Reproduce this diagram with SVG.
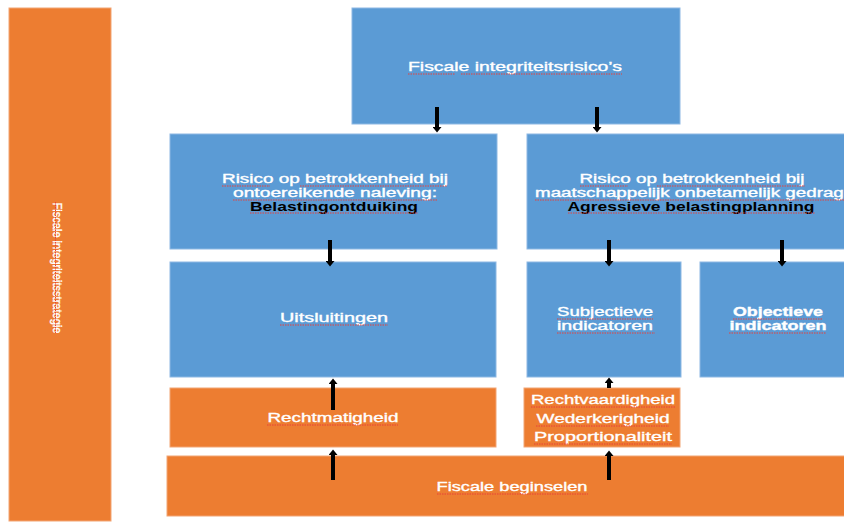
<svg xmlns="http://www.w3.org/2000/svg" width="844" height="522" viewBox="0 0 844 522">
  <defs>
    <marker id="head" viewBox="0 0 6 10" refX="0" refY="5" markerWidth="6" markerHeight="9" markerUnits="userSpaceOnUse" orient="auto">
      <path d="M0,0 L6,5 L0,10 z" fill="#000"/>
    </marker>
    <style>
      .blue { fill: #5B9BD5; stroke: #8DB8E3; stroke-width: 1; }
      .orange { fill: #ED7D31; stroke: #F2A574; stroke-width: 1; }
      .t { font-family: "Liberation Sans", Arial, sans-serif; font-size: 13px; fill: #ffffff; stroke: #ffffff; stroke-width: 0.35; text-anchor: middle; }
      .s { font-size: 12px; }
      .b { font-weight: bold; }
      .k { fill: #000000; stroke: none; }
      .sq { stroke: #E8403A; stroke-width: 1; stroke-dasharray: 1.5 1; fill: none; }
      .arr { stroke: #000; stroke-width: 4; marker-end: url(#head); }
    </style>
  </defs>
  <rect width="844" height="522" fill="#ffffff"/>

  <g id="strategie">
    <rect class="orange" x="9" y="8" width="102" height="513"/>
    <text class="t" transform="translate(52.5,268) rotate(90)" style="font-size:12.5px" textLength="131" lengthAdjust="spacingAndGlyphs">Fiscale integriteitsstrategie</text>
    <line class="sq" x1="55.5" y1="202" x2="55.5" y2="333"/>
  </g>

  <g id="risicos">
    <rect class="blue" x="352" y="8" width="328" height="116"/>
    <text class="t" x="515" y="71" textLength="214" lengthAdjust="spacingAndGlyphs">Fiscale integriteitsrisico’s</text>
    <line class="sq" x1="408" y1="74" x2="455" y2="74"/>
    <line class="sq" x1="461" y1="74" x2="622" y2="74"/>
  </g>

  <g id="ontduiking">
    <rect class="blue" x="170" y="134" width="327" height="115"/>
    <text class="t s" x="335" y="183" textLength="226" lengthAdjust="spacingAndGlyphs">Risico op betrokkenheid bij</text>
    <text class="t s" x="335" y="197" textLength="204" lengthAdjust="spacingAndGlyphs">ontoereikende naleving:</text>
    <text class="t s b k" x="334" y="211" textLength="168" lengthAdjust="spacingAndGlyphs">Belastingontduiking</text>
    <line class="sq" x1="222" y1="186" x2="270" y2="186"/>
    <line class="sq" x1="300" y1="186" x2="447" y2="186"/>
    <line class="sq" x1="233" y1="200" x2="437" y2="200"/>
    <line class="sq" x1="250" y1="213" x2="418" y2="213"/>
  </g>

  <g id="planning">
    <rect class="blue" x="527" y="134" width="330" height="115"/>
    <text class="t s" x="692" y="183" textLength="225" lengthAdjust="spacingAndGlyphs">Risico op betrokkenheid bij</text>
    <text class="t s" x="692" y="197" textLength="314" lengthAdjust="spacingAndGlyphs">maatschappelijk onbetamelijk gedrag:</text>
    <text class="t s b k" x="691" y="211" textLength="247" lengthAdjust="spacingAndGlyphs">Agressieve belastingplanning</text>
    <line class="sq" x1="580" y1="186" x2="628" y2="186"/>
    <line class="sq" x1="657" y1="186" x2="805" y2="186"/>
    <line class="sq" x1="535" y1="200" x2="844" y2="200"/>
    <line class="sq" x1="568" y1="213" x2="815" y2="213"/>
  </g>

  <g id="uitsluitingen">
    <rect class="blue" x="170" y="262" width="326" height="115"/>
    <text class="t" x="334" y="322" textLength="108" lengthAdjust="spacingAndGlyphs">Uitsluitingen</text>
    <line class="sq" x1="280" y1="325" x2="388" y2="325"/>
  </g>

  <g id="subjectief">
    <rect class="blue" x="527" y="262" width="154" height="115"/>
    <text class="t s" x="605" y="316" textLength="96" lengthAdjust="spacingAndGlyphs">Subjectieve</text>
    <text class="t s" x="605" y="330" textLength="96" lengthAdjust="spacingAndGlyphs">indicatoren</text>
    <line class="sq" x1="557" y1="319" x2="653" y2="319"/>
    <line class="sq" x1="557" y1="333" x2="655" y2="333"/>
  </g>

  <g id="objectief">
    <rect class="blue" x="700" y="262" width="160" height="115"/>
    <text class="t s b" x="778" y="316" textLength="90" lengthAdjust="spacingAndGlyphs">Objectieve</text>
    <text class="t s b" x="778" y="330" textLength="97" lengthAdjust="spacingAndGlyphs">indicatoren</text>
    <line class="sq" x1="733" y1="319" x2="823" y2="319"/>
    <line class="sq" x1="729" y1="333" x2="826" y2="333"/>
  </g>

  <g id="rechtmatigheid">
    <rect class="orange" x="170" y="388" width="326" height="59"/>
    <text class="t" x="333" y="422" textLength="131" lengthAdjust="spacingAndGlyphs">Rechtmatigheid</text>
    <line class="sq" x1="267" y1="425" x2="398" y2="425"/>
  </g>

  <g id="beginselen-subjectief">
    <rect class="orange" x="524" y="388" width="156" height="59"/>
    <text class="t" x="603" y="404" textLength="144" lengthAdjust="spacingAndGlyphs">Rechtvaardigheid</text>
    <text class="t" x="603" y="423" textLength="133" lengthAdjust="spacingAndGlyphs">Wederkerigheid</text>
    <text class="t" x="603" y="441" textLength="138" lengthAdjust="spacingAndGlyphs">Proportionaliteit</text>
    <line class="sq" x1="531" y1="407" x2="675" y2="407"/>
    <line class="sq" x1="536" y1="426" x2="669" y2="426"/>
    <line class="sq" x1="534" y1="444" x2="672" y2="444"/>
  </g>

  <g id="beginselen">
    <rect class="orange" x="167" y="456" width="690" height="60"/>
    <text class="t" x="512" y="491" textLength="151" lengthAdjust="spacingAndGlyphs">Fiscale beginselen</text>
    <line class="sq" x1="437" y1="494" x2="588" y2="494"/>
  </g>

  <g id="connectors">
    <line class="arr" x1="437" y1="107" x2="437" y2="127"/>
    <line class="arr" x1="597" y1="107" x2="597" y2="127"/>
    <line class="arr" x1="330" y1="240" x2="330" y2="261"/>
    <line class="arr" x1="609" y1="240" x2="609" y2="261"/>
    <line class="arr" x1="782" y1="240" x2="782" y2="261"/>
    <line class="arr" x1="333" y1="410" x2="333" y2="384"/>
    <line class="arr" x1="609" y1="388" x2="609" y2="383"/>
    <line class="arr" x1="333" y1="480" x2="333" y2="455"/>
    <line class="arr" x1="609" y1="480" x2="609" y2="456"/>
  </g>
</svg>
